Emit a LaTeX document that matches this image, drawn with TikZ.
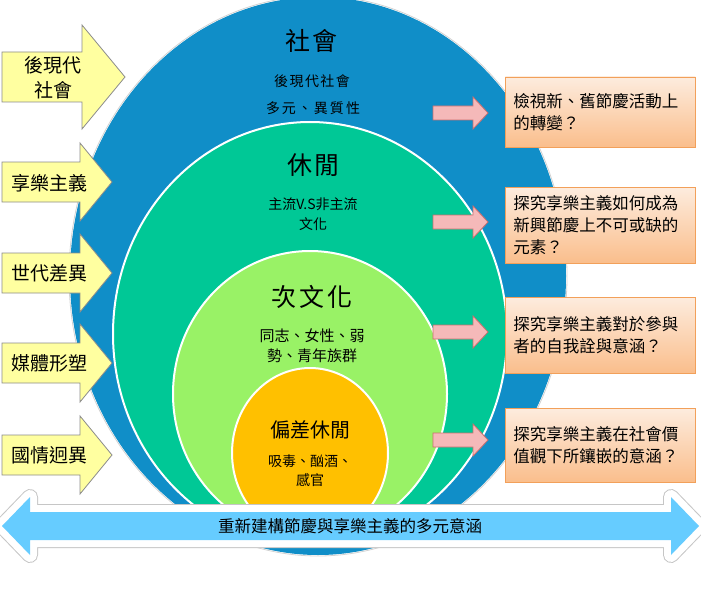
\documentclass[tikz,border=0pt]{standalone}
\usepackage{fontspec}
\setmainfont{Noto Sans CJK TC}
\definecolor{blueC}{RGB}{16,142,200}
\definecolor{tealC}{RGB}{0,200,150}
\definecolor{lgreenC}{RGB}{153,242,102}
\definecolor{orangeC}{RGB}{255,192,0}
\definecolor{yelF}{RGB}{255,255,160}
\definecolor{yelD}{RGB}{140,140,140}
\definecolor{pinkF}{RGB}{245,185,185}
\definecolor{pinkD}{RGB}{205,110,110}
\definecolor{boxT}{RGB}{253,236,222}
\definecolor{boxB}{RGB}{250,190,140}
\definecolor{boxD}{RGB}{242,160,90}
\definecolor{barF}{RGB}{102,204,255}
\tikzset{
  ring/.style={draw=white, line width=2pt},
  yarrow/.style={fill=yelF, draw=yelD, line width=0.8pt, line join=miter},
  parrow/.style={fill=pinkF, draw=pinkD, line width=0.8pt},
  qbox/.style={draw=boxD, line width=0.8pt, top color=boxT, bottom color=boxB,
     minimum width=190pt, inner xsep=8pt, text width=174pt, align=left,
     font=\fontsize{16.5}{22}\selectfont},
  ltext/.style={align=center, font=\fontsize{19}{25}\selectfont},
  ctitle/.style={align=center},
}
\begin{document}
\begin{tikzpicture}[x=1pt,y=-1pt]
\useasboundingbox (0,0) rectangle (701,591);
\fill[white] (0,0) rectangle (701,591);
% circles
\fill[blueC] (318,276) ellipse [x radius=248, y radius=279];
\draw[gray!35, line width=0.8pt] (318,276) ellipse [x radius=249, y radius=280];
\fill[tealC] (310,334) ellipse [x radius=197, y radius=212];
\draw[ring] (310,334) ellipse [x radius=197, y radius=212];
\fill[lgreenC] (310,394) ellipse [x radius=137, y radius=143];
\draw[ring] (310,394) ellipse [x radius=137, y radius=143];
\fill[orangeC] (310,453) ellipse [x radius=78, y radius=85];
\draw[ring] (310,453) ellipse [x radius=78, y radius=85];
% circle texts
\node[ctitle, font=\fontsize{25}{25}\selectfont] (soc) at (311,41) {社\hspace{2pt}會};
\node[ctitle, font=\fontsize{14}{14}\selectfont] (soc1) at (312,81) {後\hspace{1.5pt}現\hspace{1.5pt}代\hspace{1.5pt}社\hspace{1.5pt}會};
\node[ctitle, font=\fontsize{14}{14}\selectfont] (soc2) at (313,108) {多\hspace{2pt}元\hspace{2pt}、\hspace{2pt}異\hspace{2pt}質\hspace{2pt}性};
\node[ctitle, font=\fontsize{25}{25}\selectfont] (lei) at (313,165) {休\hspace{2pt}閒};
\node[ctitle, font=\fontsize{14}{20}\selectfont] (lei1) at (313,214) {主流V.S非主流\\文化};
\node[ctitle, font=\fontsize{25}{25}\selectfont] (sub) at (312,297) {次\hspace{3pt}文\hspace{3pt}化};
\node[ctitle, font=\fontsize{15}{20}\selectfont] (sub1) at (312,346) {同志、女性、弱\\勢、青年族群};
\node[ctitle, font=\fontsize{20}{20}\selectfont] (dev) at (310,430) {偏差休閒};
\node[ctitle, font=\fontsize{14}{19}\selectfont] (dev1) at (310,471) {吸毒、酗酒、\\感官};
% left yellow arrows
\foreach \ty/\bh/\hh/\nx/\tx in {77/25/52/82/125, 182/20/39/80/112, 273/20/39/80/112, 363/20/39/80/112, 455/20/39/80/112}
  \draw[yarrow] (2,{\ty-\bh}) -- (\nx,{\ty-\bh}) -- (\nx,{\ty-\hh}) -- (\tx,\ty) -- (\nx,{\ty+\hh}) -- (\nx,{\ty+\bh}) -- (2,{\ty+\bh}) -- cycle;
\node[ltext] (l1) at (53,78) {後現代\\社會};
\node[ltext] (l2) at (49,183) {享樂主義};
\node[ltext] (l3) at (49,273) {世代差異};
\node[ltext] (l4) at (49,363) {媒體形塑};
\node[ltext] (l5) at (49,455) {國情迥異};
% pink arrows
\foreach \ty in {113,222,332,440}
  \draw[parrow] (433,{\ty-7}) -- (473,{\ty-7}) -- (473,{\ty-16}) -- (488,\ty) -- (473,{\ty+16}) -- (473,{\ty+7}) -- (433,{\ty+7}) -- cycle;
% question boxes
\node[qbox, minimum height=70pt, anchor=west] (q1) at (505,112) {檢視新、舊節慶活動上\\的轉變？};
\node[qbox, minimum height=76pt, anchor=west] (q2) at (505,225) {探究享樂主義如何成為\\新興節慶上不可或缺的\\元素？};
\node[qbox, minimum height=76pt, anchor=west] (q3) at (505,335) {探究享樂主義對於參與\\者的自我詮與意涵？};
\node[qbox, minimum height=74pt, anchor=west] (q4) at (505,445) {探究享樂主義在社會價\\值觀下所鑲嵌的意涵？};
% bottom double arrow
\def\barpath{(2,526) -- (30,497) -- (30,512) -- (671,512) -- (671,497) -- (699,526) -- (671,555) -- (671,540) -- (30,540) -- (30,555) -- cycle}
\draw[gray!45, line width=16pt, line join=round] \barpath;
\draw[white, line width=14pt, line join=round] \barpath;
\fill[barF] \barpath;
\node[font=\fontsize{16.5}{16.5}\selectfont] (bar) at (350,526) {重新建構節慶與享樂主義的多元意涵};
\end{tikzpicture}
\end{document}
